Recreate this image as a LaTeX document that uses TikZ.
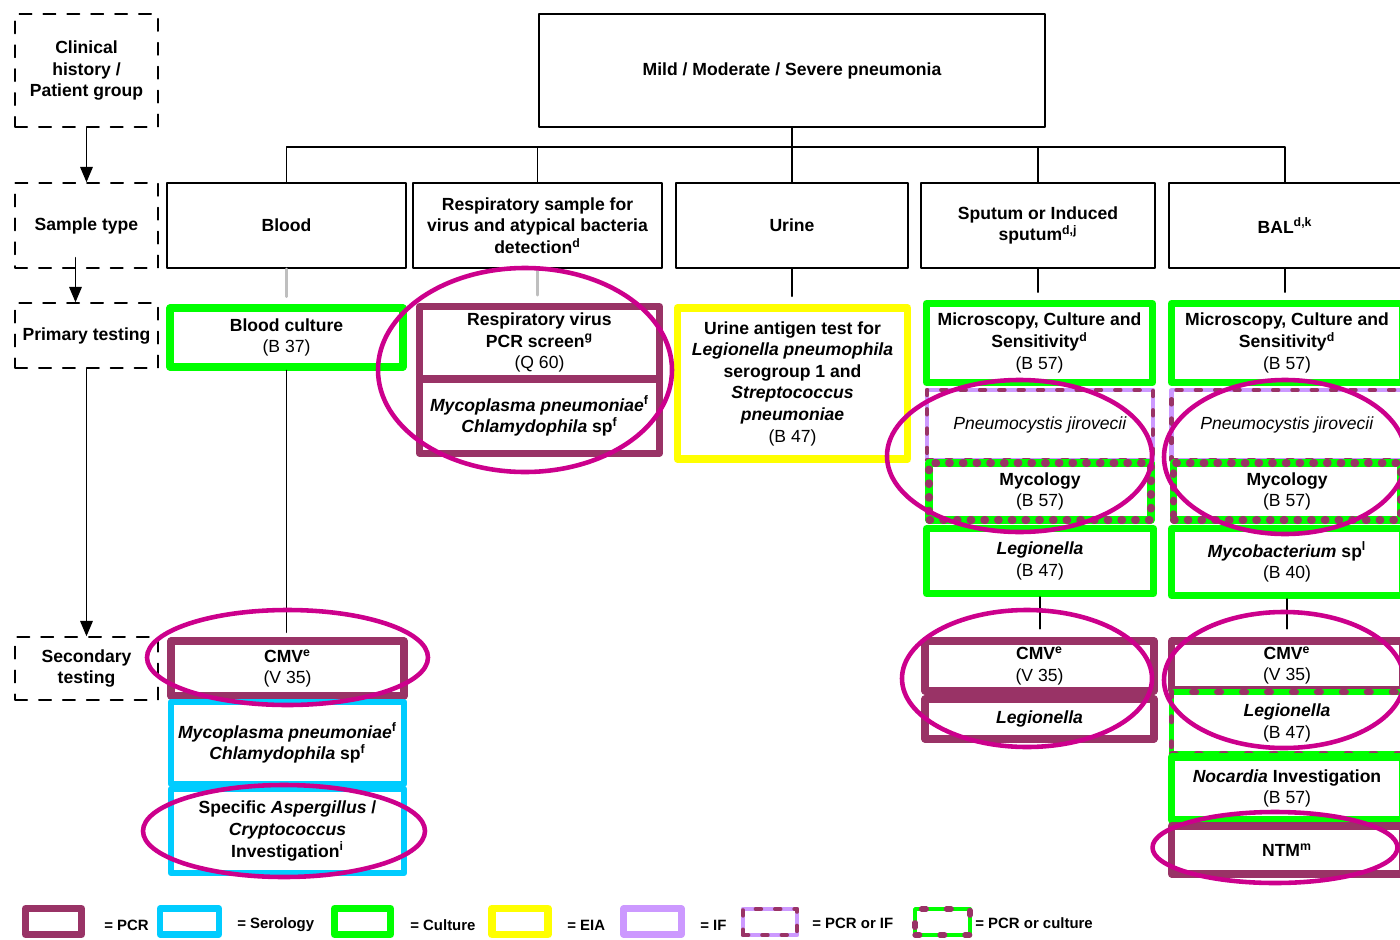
\documentclass[tikz,border=0pt]{standalone}
\usepackage{fontspec}
\setmainfont{Liberation Sans}
\usepackage{tikz}
\usetikzlibrary{arrows}
\definecolor{pcrmaroon}{rgb}{0.6,0.2,0.4}
\definecolor{serocyan}{rgb}{0.,0.8,1.}
\definecolor{cultgreen}{rgb}{0.,1.,0.}
\definecolor{eiayellow}{rgb}{1.,1.,0.}
\definecolor{iflilac}{rgb}{0.8,0.6,1.}
\definecolor{ringmagenta}{rgb}{0.8,0.,0.55}
\definecolor{linkgray}{rgb}{0.75,0.75,0.75}
\newcommand{\smiref}[1]{{\mdseries(#1)}}
\tikzstyle{every node}=[font=\fontsize{10}{12.3}\selectfont\bfseries,align=center,inner sep=1.5pt]

\begin{document}
\begin{tikzpicture}[line cap=round,line join=round,>=triangle 45,x=0.02cm,y=-0.02cm,
  sz/.style 2 args={minimum width=#1*0.02cm,minimum height=#2*0.02cm},
  rowlab/.style={draw,line width=0.9pt,dash pattern=on 7pt off 6.6pt,inner sep=0.5pt},
  sample/.style={draw,line width=1.1pt},
  pcr/.style={draw=pcrmaroon,line width=4pt},
  sero/.style={draw=serocyan,line width=3.6pt},
  cult/.style={draw=cultgreen,line width=4pt},
  eia/.style={draw=eiayellow,line width=4.5pt},
  ifbox/.style={draw=iflilac,line width=3.6pt},
  pcrif/.style={draw=iflilac,line width=2.4pt,postaction={draw=pcrmaroon,line width=2.4pt,dash pattern=on 3pt off 8pt}},
  pcrcult/.style={draw=cultgreen,line width=4pt,postaction={draw=pcrmaroon,line width=4pt,dash pattern=on 1pt off 6.8pt}},
  pcrcultlite/.style={draw=cultgreen,line width=3pt,postaction={draw=pcrmaroon,line width=3pt,dash pattern=on 2.7pt off 11.5pt}},
  link/.style={line width=1pt},
  feed/.style={linkgray,line width=1.6pt,shorten >=4.5pt},
  ring/.style={draw=ringmagenta,line width=2.6pt},
  legtext/.style={anchor=west,inner sep=0pt,font=\fontsize{8.5}{10}\selectfont\bfseries}]
\clip (0,0) rectangle (1400,940);
\node[rowlab,sz={143}{113}] (clin) at (86.5,70.5) {Clinical\\history /\\Patient group};
\node[rowlab,sz={143}{85}] (stype) at (86.5,225.5) {Sample type};
\node[rowlab,sz={143}{65}] (ptest) at (86.5,335.5) {Primary testing};
\node[rowlab,sz={143}{63}] (stest) at (86.5,668.5) {Secondary\\testing};
\node[sample,sz={506}{113}] (top) at (792,70.5) {Mild / Moderate / Severe pneumonia};
\node[sample,sz={239}{85}] (sblood) at (286.5,225.5) {Blood};
\node[sample,sz={249}{85}] (sresp) at (537.5,225.5) {Respiratory sample for\\virus and atypical bacteria\\detection\textsuperscript{d}};
\node[sample,sz={232}{85}] (surine) at (792,225.5) {Urine};
\node[sample,sz={234}{85}] (sspu) at (1038,225.5) {Sputum or Induced\\sputum\textsuperscript{d,j}};
\node[sample,sz={232}{85}] (sbal) at (1285,225.5) {BAL\textsuperscript{d,k}};
\node[cult,sz={233}{59}] (pblood) at (286.5,337.5) {Blood culture\\\smiref{B 37}};
\node[pcr,sz={240}{72.5}] (virresp) at (539.5,342.75) {Respiratory virus\\PCR screen\textsuperscript{g}\\\smiref{Q 60}};
\node[pcr,sz={240}{74.5}] (atypresp) at (539.5,416) {\textit{Mycoplasma pneumoniae}\textsuperscript{f}\\\textit{Chlamydophila} sp\textsuperscript{f}};
\node[eia,sz={230}{151}] (agurine) at (792.5,383.5) {Urine antigen test for\\\textit{Legionella pneumophila}\\serogroup 1 and\\\textit{Streptococcus}\\\textit{pneumoniae}\\\smiref{B 47}};
\node[cult,sz={226}{79}] (mcsspu) at (1039.5,343) {Microscopy, Culture and\\Sensitivity\textsuperscript{d}\\\smiref{B 57}};
\node[pcrif,sz={226}{70}] (pneuspu) at (1040,425) {\mdseries\textit{Pneumocystis jirovecii}};
\node[pcrcult,sz={222}{57}] (mycospu) at (1040,491.5) {Mycology\\\smiref{B 57}};
\node[cult,sz={227}{65}] (legspu) at (1040,561) {\textit{Legionella}\\\smiref{B 47}};
\node[cult,sz={231}{79}] (mcsbal) at (1287,343) {Microscopy, Culture and\\Sensitivity\textsuperscript{d}\\\smiref{B 57}};
\node[pcrif,sz={231}{70}] (pneubal) at (1287,425) {\mdseries\textit{Pneumocystis jirovecii}};
\node[pcrcult,sz={227}{57}] (mycobal) at (1287,491.5) {Mycology\\\smiref{B 57}};
\node[cult,sz={231}{67}] (mycobbal) at (1287,562) {\textit{Mycobacterium} sp\textsuperscript{l}\\\smiref{B 40}};
\node[pcr,sz={233}{55}] (cmvblood) at (287.5,668.5) {CMV\textsuperscript{e}\\\smiref{V 35}};
\node[sero,sz={233}{82}] (atypblood) at (287.5,743) {\textit{Mycoplasma pneumoniae}\textsuperscript{f}\\\textit{Chlamydophila} sp\textsuperscript{f}};
\node[sero,sz={233}{84}] (aspblood) at (287.5,831) {Specific \textit{Aspergillus} /\\\textit{Cryptococcus}\\Investigation\textsuperscript{i}};
\node[pcr,sz={229}{50}] (cmvspu) at (1039.5,666) {CMV\textsuperscript{e}\\\smiref{V 35}};
\node[pcr,sz={229}{40}] (leg2spu) at (1039.5,719) {\textit{Legionella}};
\node[pcr,sz={231}{49}] (cmvbal) at (1287,665.5) {CMV\textsuperscript{e}\\\smiref{V 35}};
\node[pcrcultlite,sz={231}{62}] (legbal) at (1287,723) {\textit{Legionella}\\\smiref{B 47}};
\node[cult,sz={231}{63}] (nocbal) at (1287,788.5) {\textit{Nocardia} Investigation\\\smiref{B 57}};
\node[pcr,sz={231}{48}] (ntmbal) at (1287,850) {NTM\textsuperscript{m}};
\coordinate (bus) at (top.south |- 0,147);
\draw[link] (top.south) -- (bus);
\draw[link] (sblood.north) |- (bus) -| (sbal.north);
\foreach \s in {sresp,surine,sspu} \draw[link] (\s.north) -- (\s.north |- bus);
\draw[feed] (sblood.south) -- (sblood.south |- pblood.north);
\draw[feed] (sresp.south) -- (sresp.south |- virresp.north);
\draw[link,shorten >=4.5pt] (surine.south) -- (surine.south |- agurine.north);
\draw[link,shorten >=4.5pt] (sspu.south) -- (sspu.south |- mcsspu.north);
\draw[link,shorten >=4.5pt] (sbal.south) -- (sbal.south |- mcsbal.north);
\draw[link,shorten >=3pt] (pblood.south) -- (pblood.south |- cmvblood.north);
\draw[link,shorten >=5pt] (legspu.south) -- (legspu.south |- cmvspu.north);
\draw[link,shorten >=5pt] (mycobbal.south) -- (mycobbal.south |- cmvbal.north);
\draw[->,link] (clin) -- (stype);
\draw[->,link] ([xshift=-0.22cm,yshift=0.22cm]stype.south) -- ([xshift=-0.22cm]ptest.north);
\draw[->,link] (ptest) -- (stest);
\draw[ring] (525,370) ellipse (147 and 102);
\draw[ring] (1019.5,456) ellipse (132.5 and 76);
\draw[ring] (1285,457) ellipse (121 and 77);
\draw[ring] (287.5,657.5) ellipse (140.5 and 47.5);
\draw[ring] (1027,678.5) ellipse (125 and 68.5);
\draw[ring] (1284,680) ellipse (120 and 68);
\draw[ring] (284,831) ellipse (141 and 46);
\draw[ring] (1275,847.5) ellipse (122.5 and 35.5);
\node[pcr,sz={56}{26}] (lgpcr) at (53.5,921.5) {};
\node[legtext] (txpcr) at (104,925) {= PCR};
\node[sero,sz={59}{26}] (lgsero) at (189.5,921.5) {};
\node[legtext] (txsero) at (237,925) {= Serology};
\node[cult,sz={56}{26}] (lgcult) at (362.5,921.5) {};
\node[legtext] (txcult) at (410,925) {= Culture};
\node[eia,sz={56}{26}] (lgeia) at (520,921.5) {};
\node[legtext] (txeia) at (567,925) {= EIA};
\node[ifbox,sz={58}{26}] (lgif) at (652.5,921.5) {};
\node[legtext] (txif) at (700,925) {= IF};
\node[pcrif,sz={54}{26}] (lgpcrif) at (770,922) {};
\node[legtext] (txpcrif) at (812,923) {= PCR or IF};
\node[pcrcultlite,line width=2.2pt,sz={55}{26}] (lgpcrcult) at (942.5,922) {};
\node[legtext] (txpcrcult) at (975,923) {= PCR or culture};
\end{tikzpicture}
\end{document}
